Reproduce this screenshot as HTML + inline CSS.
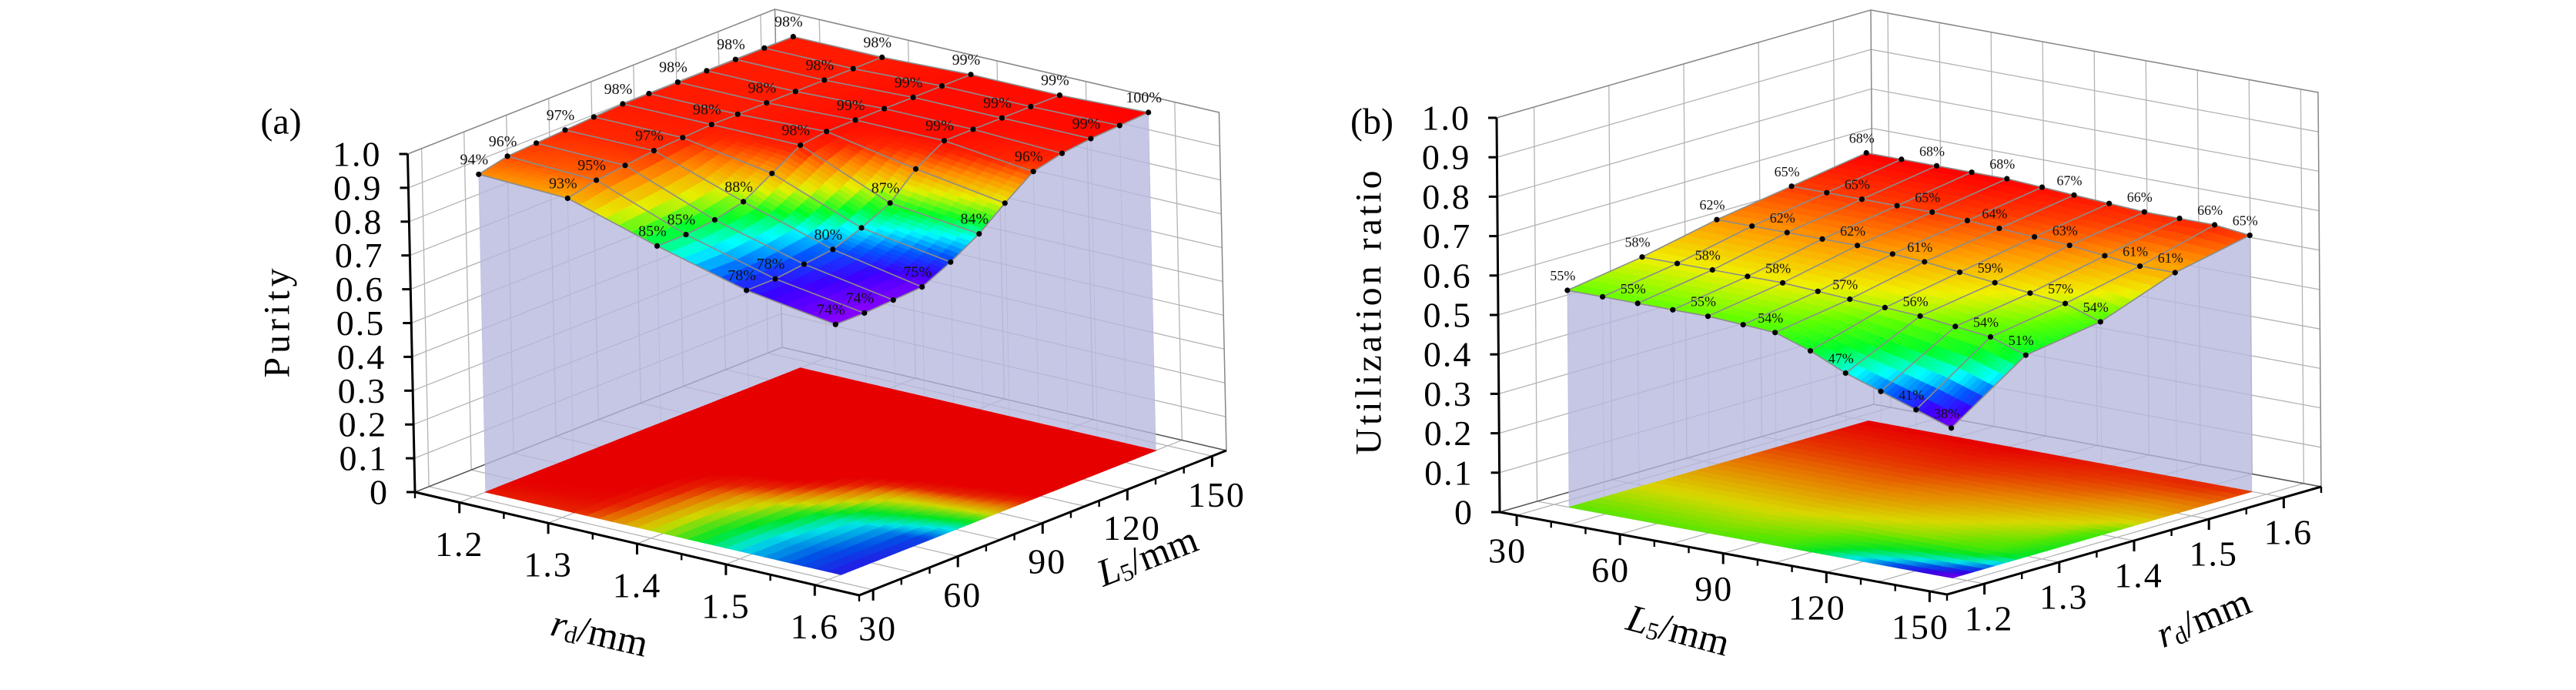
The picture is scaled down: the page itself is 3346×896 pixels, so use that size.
<!DOCTYPE html>
<html><head><meta charset="utf-8"><title>Purity and utilization ratio surfaces</title>
<style>
html,body{margin:0;padding:0;background:#fff;}
svg{display:block;}
svg text{font-family:"Liberation Serif",serif;}
</style></head>
<body>
<svg id="fig" width="3346" height="896" viewBox="0 0 3346 896" font-family="Liberation Serif, serif">
  <rect x="0" y="0" width="3346" height="896" fill="#fff"/>
  <g id="chart-a"></g>
  <g id="chart-b"></g>
  <text x="365" y="158" font-size="48" font-family="Liberation Serif, serif" text-anchor="middle" dominant-baseline="central">(a)</text>
  <text x="1782" y="158" font-size="48" font-family="Liberation Serif, serif" text-anchor="middle" dominant-baseline="central">(b)</text>
  <text transform="translate(360,417) rotate(-90)" font-size="48" font-family="Liberation Serif, serif" letter-spacing="5" text-anchor="middle" dominant-baseline="central">Purity</text>
  <text transform="translate(1778,404) rotate(-90)" font-size="48" font-family="Liberation Serif, serif" letter-spacing="4" text-anchor="middle" dominant-baseline="central">Utilization ratio</text>
  <text transform="translate(779,822) rotate(13)" font-size="50" font-family="Liberation Serif, serif" text-anchor="middle" dominant-baseline="central"><tspan font-style="italic">r</tspan><tspan font-size="32" dy="10">d</tspan><tspan dy="-10">/mm</tspan></text>
  <text transform="translate(1490,722) rotate(-21)" font-size="50" font-family="Liberation Serif, serif" text-anchor="middle" dominant-baseline="central"><tspan font-style="italic">L</tspan><tspan font-size="32" dy="10">5</tspan><tspan dy="-10">/mm</tspan></text>
  <text transform="translate(2180,818) rotate(15)" font-size="50" font-family="Liberation Serif, serif" text-anchor="middle" dominant-baseline="central"><tspan font-style="italic">L</tspan><tspan font-size="32" dy="10">5</tspan><tspan dy="-10">/mm</tspan></text>
  <text transform="translate(2862,802) rotate(-22)" font-size="50" font-family="Liberation Serif, serif" text-anchor="middle" dominant-baseline="central"><tspan font-style="italic">r</tspan><tspan font-size="32" dy="10">d</tspan><tspan dy="-10">/mm</tspan></text>
</svg>
<script>
// ---- data ----
const RD_VALUES = [1.2, 1.3, 1.4, 1.5, 1.6];
const L5_VALUES = [30, 41, 52, 63, 74, 85, 95, 106, 117, 128, 139, 150];
const PURITY = [
  [94, 96, 96.5, 97, 97.5, 98, 98, 98, 98, 98, 98, 98],
  [93, 95, 96, 97, 97.5, 98, 98, 98, 98, 98, 98, 98],
  [85, 85, 86, 88, 93, 98, 99, 99, 99, 99, 99, 99],
  [78, 78, 79, 80, 83, 87, 94, 99, 99, 99, 99, 99],
  [74, 74, 74.5, 75, 79, 84, 90, 96, 98, 99, 99.5, 100]
];
const UTILIZATION = [
  [55, 55, 55, 55, 55, 54.5, 54, 51, 47, 44, 41, 38],
  [58, 58, 58, 58, 58, 57.5, 57, 56.5, 56, 55, 54, 51],
  [62, 62, 62, 62, 62, 61.5, 61, 60, 59, 58, 57, 54],
  [65, 65, 65, 65, 65, 64.5, 64, 63.5, 63, 62, 61, 61],
  [68, 68, 68, 68, 68, 67.5, 67, 66.5, 66, 66, 66, 65]
];
const LABEL_COLS_A = [0, 1, 3, 5, 7, 9, 11];
const LABEL_COLS_B = [0, 2, 4, 6, 8, 10, 11];
const Z_TICKS = [0, 0.1, 0.2, 0.3, 0.4, 0.5, 0.6, 0.7, 0.8, 0.9, 1.0];
const Z_TICK_LABELS = ['0', '0.1', '0.2', '0.3', '0.4', '0.5', '0.6', '0.7', '0.8', '0.9', '1.0'];
const RD_TICKS = [1.2, 1.3, 1.4, 1.5, 1.6];
const RD_TICK_LABELS = ['1.2', '1.3', '1.4', '1.5', '1.6'];
const RD_MINOR = [1.15, 1.25, 1.35, 1.45, 1.55, 1.65];
const L5_TICKS = [30, 60, 90, 120, 150];
const L5_TICK_LABELS = ['30', '60', '90', '120', '150'];
const L5_MINOR = [40, 50, 70, 80, 100, 110, 130, 140];
const L5_GRID = [30, 45, 60, 75, 90, 105, 120, 135, 150];

const A_STOPS = [[74,140,0,255],[77,60,0,255],[80,0,90,255],[83,0,255,255],[86,0,255,40],[90,230,240,0],[94,255,140,0],[97,255,40,0],[100,255,0,0]];
const B_STOPS = [[38,140,0,255],[41,60,0,255],[44,0,90,255],[47,0,255,255],[51,0,255,40],[55,100,255,0],[58,240,240,0],[62,255,150,0],[65,255,60,0],[68,255,0,0]];

const NS = 'http://www.w3.org/2000/svg';
const FONT = 'Liberation Serif, serif';
function mk(tag, attrs, parent) {
  const el = document.createElementNS(NS, tag);
  for (const k in attrs) el.setAttribute(k, attrs[k]);
  parent.appendChild(el);
  return el;
}
function colorAt(stops, z, k) {
  let c = stops[stops.length - 1];
  let r = c[1], g = c[2], b = c[3];
  if (z <= stops[0][0]) { r = stops[0][1]; g = stops[0][2]; b = stops[0][3]; }
  else {
    for (let i = 0; i < stops.length - 1; i++) {
      const s0 = stops[i], s1 = stops[i + 1];
      if (z >= s0[0] && z <= s1[0]) {
        const t = (z - s0[0]) / (s1[0] - s0[0]);
        r = s0[1] + (s1[1] - s0[1]) * t; g = s0[2] + (s1[2] - s0[2]) * t; b = s0[3] + (s1[3] - s0[3]) * t;
        break;
      }
    }
  }
  return 'rgb(' + Math.round(r * k) + ',' + Math.round(g * k) + ',' + Math.round(b * k) + ')';
}

const CHARTS = [
  { gid: 'chart-a', A: [539, 639], eB: [577, 134], eD: [477, -188], ez: [-9.5, -439], rdOnB: true,
    data: PURITY, stops: A_STOPS, labelCols: LABEL_COLS_A, fs: 20, floorShift: 4,
    offAB: [0, 54], offBC: [6, 50] },
  { gid: 'chart-b', A: [1948, 665], eB: [581, 107], eD: [486, -140], ez: [-4, -512], rdOnB: false,
    data: UTILIZATION, stops: B_STOPS, labelCols: LABEL_COLS_B, fs: 18, floorShift: 0,
    offAB: [-12, 46], offBC: [6, 45] }
];

function drawChart(c) {
  const g = document.getElementById(c.gid);
  const P = (u, v, z) => [c.A[0] + u * c.eB[0] + v * c.eD[0] + z * c.ez[0], c.A[1] + u * c.eB[1] + v * c.eD[1] + z * c.ez[1]];
  const fRd = rd => (rd - 1.15) / 0.5;
  const fL5data = l => (l - 20) / 140;
  const fL5axis = l => 0.038 + (l - 30) / 130;
  const dataUV = (rd, l5) => c.rdOnB ? [fRd(rd), fL5data(l5)] : [fL5data(l5), fRd(rd)];
  const pts = a => a.map(p => p[0].toFixed(1) + ',' + p[1].toFixed(1)).join(' ');
  const uGrid = c.rdOnB ? RD_TICKS.map(fRd) : L5_GRID.map(fL5axis);
  const vGrid = c.rdOnB ? L5_GRID.map(fL5axis) : RD_TICKS.map(fRd);

  const grid = mk('g', { stroke: '#b4b4b4', 'stroke-width': 1.3, fill: 'none' }, g);
  
  
  Z_TICKS.forEach(z => {
    const l = mk('polyline', { points: pts([P(0, 0, z), P(0, 1, z), P(1, 1, z)]) }, grid);
    
    
  });
  vGrid.forEach(v => {
    const l = mk('polyline', { points: pts([P(0, v, 1), P(0, v, 0), P(1, v, 0)]) }, grid);
    
    
  });
  uGrid.forEach(u => {
    const l = mk('polyline', { points: pts([P(u, 0, 0), P(u, 1, 0), P(u, 1, 1)]) }, grid);
    
    
  });
  const edges = mk('polyline', { points: pts([P(0, 0, 0), P(0, 1, 0), P(1, 1, 0)]), stroke: '#555', 'stroke-width': 1.5, fill: 'none' }, g);
  
  
  const edges2 = mk('polyline', { points: pts([P(0, 0, 1), P(0, 1, 1), P(1, 1, 1), P(1, 1, 0)]), stroke: '#888', 'stroke-width': 1.5, fill: 'none' }, g);
  
  
  const edges3 = mk('line', { x1: P(0, 1, 0)[0], y1: P(0, 1, 0)[1], x2: P(0, 1, 1)[0], y2: P(0, 1, 1)[1], stroke: '#888', 'stroke-width': 1.5 }, g);
  
  

  const nI = RD_VALUES.length, nJ = L5_VALUES.length;
  const node = (i, j, z) => { const uv = dataUV(RD_VALUES[i], L5_VALUES[j]); return P(uv[0], uv[1], z); };
  const zv = (i, j) => c.data[i][j] / 100;

  const cur = mk('g', { fill: '#b6b7dc', 'fill-opacity': 0.78, stroke: 'none' }, g);
  
  
  const edgeA = [], edgeB = [];
  if (c.rdOnB) { for (let i = 0; i < nI; i++) edgeA.push([i, 0]); for (let j = 0; j < nJ; j++) edgeB.push([nI - 1, j]); }
  else { for (let j = 0; j < nJ; j++) edgeA.push([0, j]); for (let i = 0; i < nI; i++) edgeB.push([i, nJ - 1]); }
  [edgeA, edgeB].forEach(edge => {
    for (let k = 0; k < edge.length - 1; k++) {
      const p = edge[k], q = edge[k + 1];
      const poly = mk('polygon', { points: pts([node(p[0], p[1], zv(p[0], p[1])), node(q[0], q[1], zv(q[0], q[1])), node(q[0], q[1], 0), node(p[0], p[1], 0)]), stroke: '#b6b7dc', 'stroke-width': 0.6 }, cur);
      
      
    }
  });

  const S = 7;
  const quads = [];
  for (let i = 0; i < nI - 1; i++) for (let j = 0; j < nJ - 1; j++) {
    for (let a = 0; a < S; a++) for (let b = 0; b < S; b++) {
      const corner = (s, t) => {
        const rd = RD_VALUES[i] + (RD_VALUES[i + 1] - RD_VALUES[i]) * s;
        const l5 = L5_VALUES[j] + (L5_VALUES[j + 1] - L5_VALUES[j]) * t;
        const z = (c.data[i][j] * (1 - s) * (1 - t) + c.data[i][j + 1] * (1 - s) * t + c.data[i + 1][j] * s * (1 - t) + c.data[i + 1][j + 1] * s * t);
        return { uv: dataUV(rd, l5), z: z };
      };
      const cs = [corner(a / S, b / S), corner(a / S, (b + 1) / S), corner((a + 1) / S, (b + 1) / S), corner((a + 1) / S, b / S)];
      const zc = (cs[0].z + cs[1].z + cs[2].z + cs[3].z) / 4;
      const uc = (cs[0].uv[0] + cs[2].uv[0]) / 2, vc = (cs[0].uv[1] + cs[2].uv[1]) / 2;
      quads.push({ cs: cs, zc: zc, depth: uc - vc });
    }
  }
  const floorG = mk('g', {}, g);
  
  
  quads.forEach(q => {
    const col = colorAt(c.stops, q.zc + c.floorShift, 0.9);
    const poly = mk('polygon', { points: pts(q.cs.map(p => P(p.uv[0], p.uv[1], 0))), fill: col, stroke: col, 'stroke-width': 1 }, floorG);
    
    
  });
  const surfG = mk('g', {}, g);
  
  
  quads.slice().sort((p, q) => p.depth - q.depth).forEach(q => {
    const col = colorAt(c.stops, q.zc, 1);
    const poly = mk('polygon', { points: pts(q.cs.map(p => P(p.uv[0], p.uv[1], p.z / 100))), fill: col, stroke: col, 'stroke-width': 1 }, surfG);
    
    
  });

  const mesh = mk('g', { stroke: '#8c8c8c', 'stroke-width': 1.6, fill: 'none' }, g);
  
  
  for (let i = 0; i < nI; i++) {
    const arr = []; for (let j = 0; j < nJ; j++) arr.push(node(i, j, zv(i, j)));
    const l = mk('polyline', { points: pts(arr) }, mesh);
    
    
  }
  for (let j = 0; j < nJ; j++) {
    const arr = []; for (let i = 0; i < nI; i++) arr.push(node(i, j, zv(i, j)));
    const l = mk('polyline', { points: pts(arr) }, mesh);
    
    
  }

  const ptsG = mk('g', {}, g);
  
  
  for (let i = 0; i < nI; i++) for (let j = 0; j < nJ; j++) {
    const p = node(i, j, zv(i, j));
    const dot = mk('circle', { cx: p[0].toFixed(1), cy: p[1].toFixed(1), r: 3.6, fill: '#000' }, ptsG);
    
    
    if (c.labelCols.indexOf(j) >= 0) {
      const t = mk('text', { x: (p[0] - 6).toFixed(1), y: (p[1] - 19).toFixed(1), 'font-size': c.fs, 'font-family': FONT, 'text-anchor': 'middle', 'dominant-baseline': 'central', fill: '#111' }, ptsG);
      
      
      t.textContent = Math.round(c.data[i][j]) + '%';
    }
  }

  const ax = mk('g', { stroke: '#000', 'stroke-width': 3, fill: 'none' }, g);
  
  
  const z0 = P(0, 0, 0), z1 = P(0, 0, 1);
  const zl = mk('line', { x1: z0[0], y1: z0[1], x2: z1[0], y2: z1[1] }, ax);
  
  
  Z_TICKS.forEach((z, k) => {
    const p = P(0, 0, z);
    const t = mk('line', { x1: p[0] - 11, y1: p[1], x2: p[0], y2: p[1] }, ax);
    
    
    const lab = mk('text', { x: p[0] - 34, y: p[1], 'font-size': 46, 'font-family': FONT, 'letter-spacing': 2, 'text-anchor': 'end', 'dominant-baseline': 'central', fill: '#000', stroke: 'none' }, g);
    
    
    lab.textContent = Z_TICK_LABELS[k];
  });
  const B0 = P(1, 0, 0), C0 = P(1, 1, 0);
  const ab = mk('polyline', { points: pts([z0, B0, C0]) }, ax);
  
  
  const abMajor = c.rdOnB ? RD_TICKS.map(fRd) : L5_TICKS.map(fL5axis);
  const abMinor = c.rdOnB ? RD_MINOR.map(fRd) : L5_MINOR.map(fL5axis);
  const abLabels = c.rdOnB ? RD_TICK_LABELS : L5_TICK_LABELS;
  const bcMajor = c.rdOnB ? L5_TICKS.map(fL5axis) : RD_TICKS.map(fRd);
  const bcMinor = c.rdOnB ? L5_MINOR.map(fL5axis) : RD_MINOR.map(fRd);
  const bcLabels = c.rdOnB ? L5_TICK_LABELS : RD_TICK_LABELS;
  abMinor.forEach(u => {
    const p = P(u, 0, 0);
    const t = mk('line', { x1: p[0], y1: p[1], x2: p[0], y2: p[1] + 8, 'stroke-width': 2.4 }, ax);
    
    
  });
  abMajor.forEach((u, k) => {
    const p = P(u, 0, 0);
    const t = mk('line', { x1: p[0], y1: p[1], x2: p[0], y2: p[1] + 14 }, ax);
    
    
    const lab = mk('text', { x: p[0] + c.offAB[0], y: p[1] + c.offAB[1], 'font-size': 46, 'font-family': FONT, 'letter-spacing': 2, 'text-anchor': 'middle', 'dominant-baseline': 'central', fill: '#000', stroke: 'none' }, g);
    
    
    lab.textContent = abLabels[k];
  });
  bcMinor.forEach(v => {
    const p = P(1, v, 0);
    const t = mk('line', { x1: p[0], y1: p[1], x2: p[0], y2: p[1] + 8, 'stroke-width': 2.4 }, ax);
    
    
  });
  bcMajor.forEach((v, k) => {
    const p = P(1, v, 0);
    const t = mk('line', { x1: p[0], y1: p[1], x2: p[0], y2: p[1] + 14 }, ax);
    
    
    const lab = mk('text', { x: p[0] + c.offBC[0], y: p[1] + c.offBC[1], 'font-size': 46, 'font-family': FONT, 'letter-spacing': 2, 'text-anchor': 'middle', 'dominant-baseline': 'central', fill: '#000', stroke: 'none' }, g);
    
    
    lab.textContent = bcLabels[k];
  });
}
CHARTS.forEach(drawChart);
</script>
</body></html>
